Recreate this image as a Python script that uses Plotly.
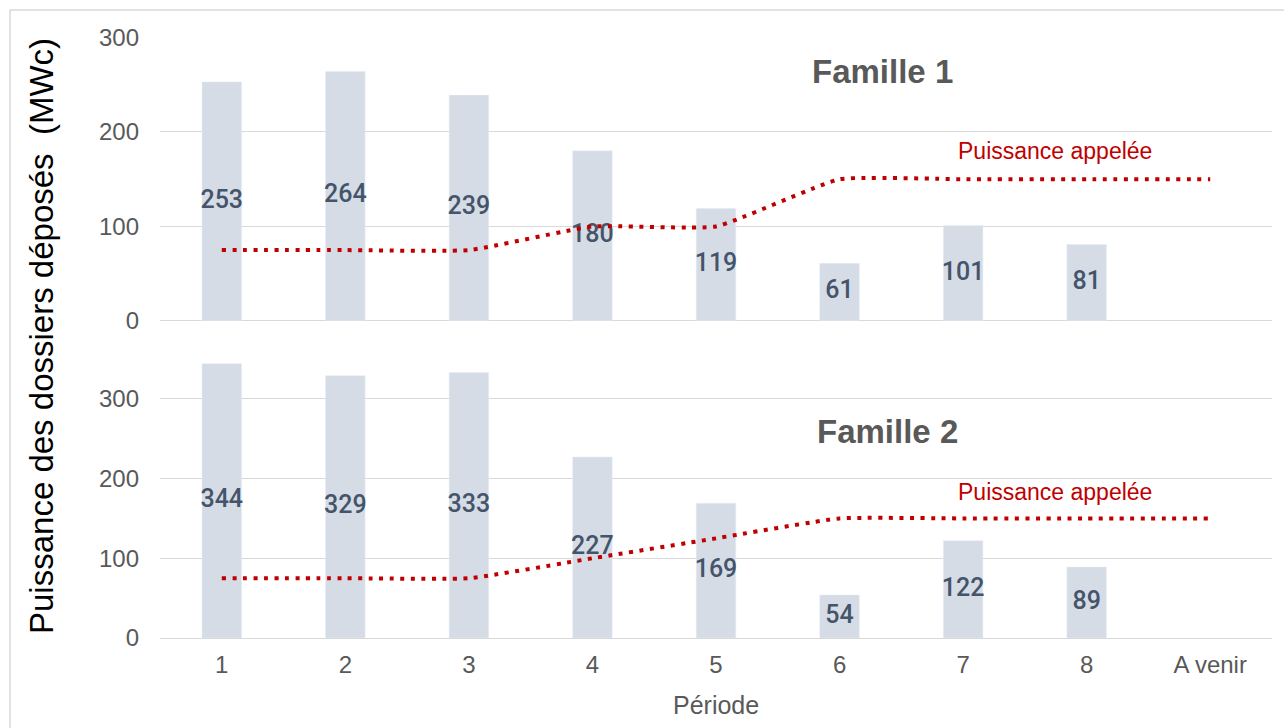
import plotly.graph_objects as go
from plotly.subplots import make_subplots

# Data
periodes = ["1", "2", "3", "4", "5", "6", "7", "8", "A venir"]
famille1_depose = [253, 264, 239, 180, 119, 61, 101, 81, None]
famille2_depose = [344, 329, 333, 227, 169, 54, 122, 89, None]
famille1_appelee = [75, 75, 75, 100, 100, 150, 150, 150, 150]
famille2_appelee = [75, 75, 75, 100, 125, 150, 150, 150, 150]

BAR_COLOR = "#D6DCE5"
LABEL_COLOR = "#44546A"
RED = "#C00000"
GRID = "#D9D9D9"
GREY_TXT = "#595959"

fig = make_subplots(rows=2, cols=1, shared_xaxes=True)


def add_panel(row, depose, appelee):
    fig.add_trace(go.Bar(x=periodes, y=depose, marker_color=BAR_COLOR,
                         width=0.32, hoverinfo="skip"), row=row, col=1)
    # value labels centred in each bar
    xs = [p for p, v in zip(periodes, depose) if v is not None]
    vs = [v for v in depose if v is not None]
    fig.add_trace(go.Scatter(x=xs, y=[v / 2 for v in vs], mode="text",
                             text=[str(v) for v in vs],
                             textfont=dict(family="Roboto", size=25,
                                           weight=500, color=LABEL_COLOR),
                             hoverinfo="skip"), row=row, col=1)
    fig.add_trace(go.Scatter(x=periodes, y=appelee, mode="lines",
                             line=dict(color=RED, width=4, dash="4px,6.5px",
                                       shape="spline", smoothing=0.4),
                             hoverinfo="skip"), row=row, col=1)


add_panel(1, famille1_depose, famille1_appelee)
add_panel(2, famille2_depose, famille2_appelee)

axis_font = dict(family="Liberation Sans", size=24, color=GREY_TXT)

fig.update_yaxes(showgrid=True, gridcolor=GRID, gridwidth=1.3,
                 zeroline=True, zerolinecolor=GRID, zerolinewidth=1.3,
                 showline=False, ticks="", tickfont=axis_font,
                 dtick=100, ticklabelstandoff=20)
fig.update_yaxes(range=[0, 300.5], domain=[0.5275, 1.0], row=1, col=1)
fig.update_yaxes(range=[0, 360], domain=[0.0, 0.4775], row=2, col=1)

fig.update_xaxes(type="category", showgrid=False, zeroline=False,
                 showline=False, ticks="", tickfont=axis_font,
                 range=[-0.5, 8.5])
fig.update_xaxes(showticklabels=False, row=1, col=1)
fig.update_xaxes(showticklabels=True, ticklabelstandoff=10, row=2, col=1)

annotations = [
    dict(text="<b>Famille 1</b>", x=0.650, y=0.9418,
         font=dict(family="Liberation Sans", size=33, color=GREY_TXT)),
    dict(text="<b>Famille 2</b>", x=0.654, y=0.3428,
         font=dict(family="Liberation Sans", size=33, color=GREY_TXT)),
    dict(text="Puissance appelée", x=0.805, y=0.810,
         font=dict(family="Liberation Sans", size=23, color=RED)),
    dict(text="Puissance appelée", x=0.805, y=0.243,
         font=dict(family="Liberation Sans", size=23, color=RED)),
    dict(text="Puissance des dossiers déposés&nbsp;&nbsp;(MWc)", textangle=-90,
         x=-0.1061, y=0.5025,
         font=dict(family="Liberation Sans", size=33, color="#000000")),
    dict(text="Période", x=0.5, y=-0.1115,
         font=dict(family="Liberation Sans", size=25, color=GREY_TXT)),
]
for a in annotations:
    a.update(xref="paper", yref="paper", showarrow=False,
             xanchor="center", yanchor="middle")

fig.update_layout(
    width=1284, height=728,
    margin=dict(l=160, r=12, t=37, b=90),
    paper_bgcolor="white", plot_bgcolor="white",
    showlegend=False, bargap=0.68,
    annotations=annotations,
    shapes=[dict(type="rect", xref="paper", yref="paper",
                 x0=-0.1349, x1=1.02, y0=-0.3, y1=1.0449,
                 line=dict(color="#D9D9D9", width=1.5),
                 fillcolor="rgba(0,0,0,0)", layer="below")],
)

fig.write_html("out.html")
